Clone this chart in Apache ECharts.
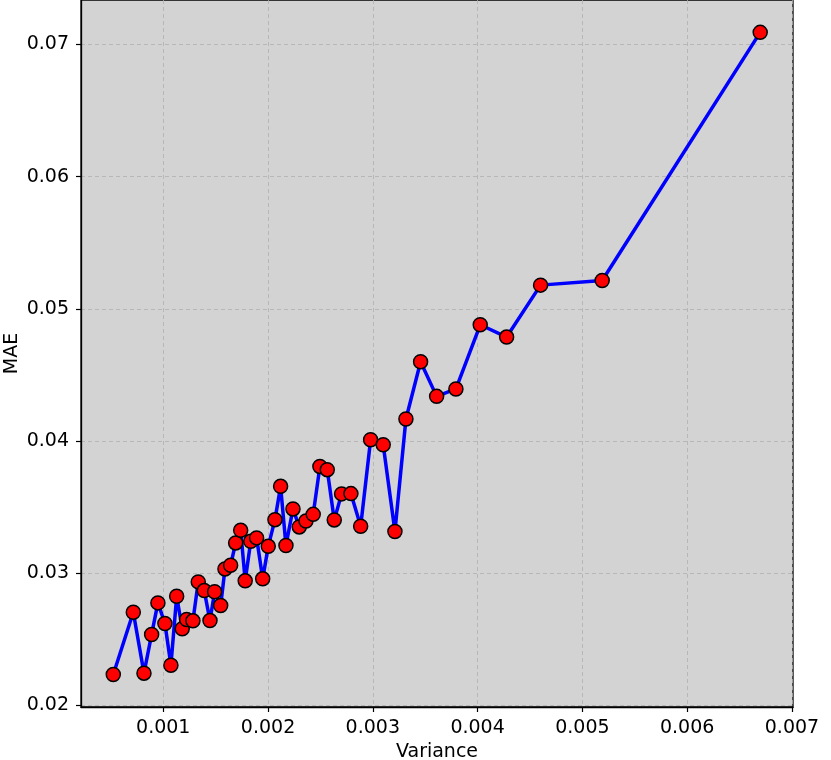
<!DOCTYPE html>
<html>
<head>
<meta charset="utf-8">
<script src="https://cdn.jsdelivr.net/npm/echarts@6/dist/echarts.min.js"></script>
<style>
  html, body { margin: 0; padding: 0; background: #fff; }
  #chart { width: 831px; height: 760px; }
</style>
</head>
<body>
<div id="chart"></div>
<script>
const variance = [
  0.000523, 0.000714, 0.000816, 0.000889, 0.000949, 0.001016, 0.001073, 0.001128, 0.001181, 0.001223,
  0.001283, 0.001334, 0.001391, 0.001446, 0.001490, 0.001548, 0.001589, 0.001643, 0.001691, 0.001739,
  0.001782, 0.001835, 0.001891, 0.001949, 0.002002, 0.002066, 0.002120, 0.002171, 0.002238, 0.002298,
  0.002362, 0.002431, 0.002495, 0.002565, 0.002632, 0.002702, 0.002791, 0.002884, 0.002979, 0.003099,
  0.003211, 0.003316, 0.003456, 0.003609, 0.003793, 0.004025, 0.004277, 0.004601, 0.005189, 0.006697
]
const mae = [
  0.02232, 0.02703, 0.02242, 0.02535, 0.02774, 0.02618, 0.02302, 0.02824, 0.02578, 0.02648,
  0.02638, 0.02933, 0.02867, 0.02640, 0.02858, 0.02754, 0.03031, 0.03059, 0.03228, 0.03323,
  0.02941, 0.03240, 0.03266, 0.02956, 0.03202, 0.03404, 0.03656, 0.03208, 0.03485, 0.03349,
  0.03394, 0.03444, 0.03807, 0.03782, 0.03402, 0.03599, 0.03601, 0.03354, 0.04009, 0.03971,
  0.03314, 0.04166, 0.04599, 0.04337, 0.04393, 0.04879, 0.04786, 0.05179, 0.05214, 0.07092
]
const xTicks = [0.001, 0.002, 0.003, 0.004, 0.005, 0.006, 0.007]
const yTicks = [0.02, 0.03, 0.04, 0.05, 0.06, 0.07]

const font = 'DejaVu Sans'
const chart = echarts.init(document.getElementById('chart'))

const gridLine = {
  show: true,
  lineStyle: { color: '#b0b0b0', width: 0.8, type: [4, 3] }
}

chart.setOption({
  animation: false,
  grid: {
    left: 81, right: 38, top: 0, bottom: 53,
    outerBoundsMode: 'none',
    containLabel: false,
    show: true,
    backgroundColor: '#d3d3d3',
    borderColor: '#000',
    borderWidth: 1.3
  },
  xAxis: {
    type: 'value',
    min: 0.000215,
    max: 0.00701,
    name: 'Variance',
    nameLocation: 'middle',
    nameGap: 36,
    nameMoveOverlap: false,
    nameTextStyle: { fontFamily: font, fontSize: 19, color: '#000' },
    axisLine: { show: true, onZero: false, lineStyle: { color: '#000', width: 1.3 } },
    axisTick: { show: true, customValues: xTicks, length: 5, lineStyle: { color: '#000', width: 1.2 } },
    axisLabel: { customValues: xTicks, fontFamily: font, fontSize: 19, color: '#000', margin: 12 },
    splitLine: gridLine
  },
  yAxis: {
    type: 'value',
    min: 0.01986,
    max: 0.07337,
    name: 'MAE',
    nameLocation: 'middle',
    nameGap: 59,
    nameMoveOverlap: false,
    nameTextStyle: { fontFamily: font, fontSize: 19, color: '#000' },
    axisLine: { show: true, onZero: false, lineStyle: { color: '#000', width: 1.3 } },
    axisTick: { show: true, customValues: yTicks, length: 5, lineStyle: { color: '#000', width: 1.2 } },
    axisLabel: { customValues: yTicks, fontFamily: font, fontSize: 19, color: '#000', margin: 12 },
    splitLine: gridLine
  },
  series: [{
    type: 'line',
    data: variance.map((v, i) => [v, mae[i]]),
    lineStyle: { color: '#0000ff', width: 3.5 },
    symbol: 'circle',
    symbolSize: 14,
    itemStyle: { color: '#ff0000', borderColor: '#000', borderWidth: 1.5 },
    clip: false
  }]
})
</script>
</body>
</html>
